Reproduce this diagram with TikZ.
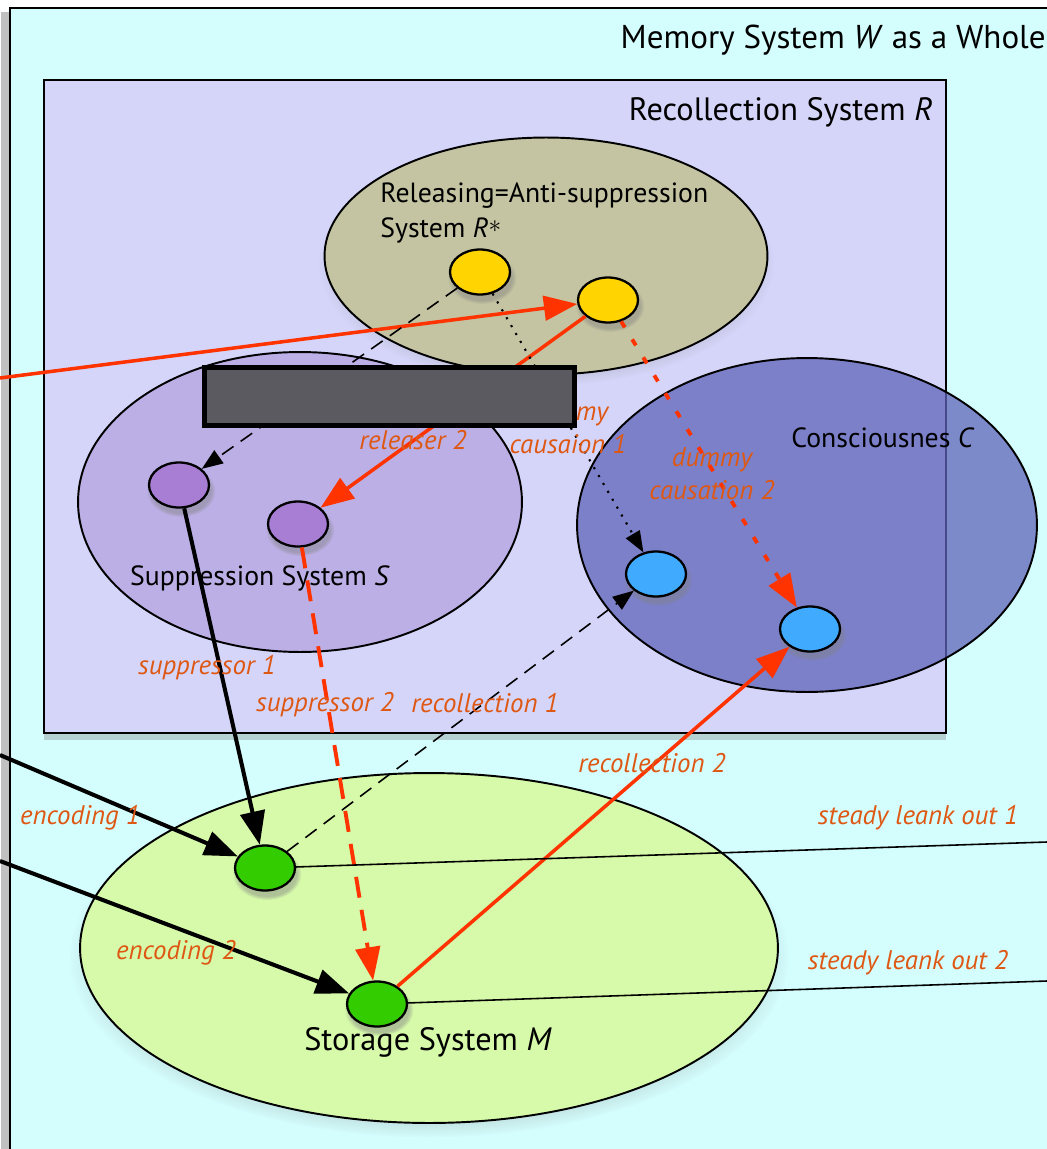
\documentclass[tikz,border=0pt]{standalone}
\usepackage{fontspec}
\setmainfont{PT Sans}
\usetikzlibrary{arrows.meta,shapes.geometric,shadows}

\definecolor{wholebg}{RGB}{212,253,253}
\definecolor{recbg}{RGB}{213,213,250}
\definecolor{releasebg}{RGB}{196,196,162}
\definecolor{suppbg}{RGB}{172,150,215}
\definecolor{conscbg}{RGB}{95,100,185}
\definecolor{storebg}{RGB}{214,250,170}
\definecolor{yellownode}{RGB}{255,212,0}
\definecolor{purplenode}{RGB}{168,126,212}
\definecolor{bluenode}{RGB}{64,170,255}
\definecolor{greennode}{RGB}{51,204,0}
\definecolor{arrowred}{RGB}{255,51,0}
\definecolor{labelorange}{RGB}{222,88,20}
\definecolor{barGray}{RGB}{90,90,96}

\begin{document}
\begin{tikzpicture}[x=0.02cm, y=-0.02cm,
    font=\fontsize{15.8}{20}\selectfont,
    sysbox/.style={draw, line width=1.2pt, anchor=north west, inner sep=0pt, outer sep=0pt},
    sysring/.style={ellipse, draw, line width=1.1pt, inner sep=0pt},
    unit/.style={ellipse, draw, line width=1.3pt, minimum width=1.2cm, minimum height=0.9cm, inner sep=0pt,
        circular drop shadow={shadow xshift=1pt, shadow yshift=-3pt, shadow scale=1.15, opacity=0.45}},
    lbl/.style={text=labelorange, font=\fontsize{15.3}{18.5}\selectfont\itshape, inner sep=0pt, align=center},
    boldarrow/.style={line width=2.3pt, -{Triangle[length=19pt,width=14pt]}},
    redarrow/.style={arrowred, line width=2pt, -{Triangle[length=19pt,width=14pt]}},
    thinarrow/.style={line width=0.9pt, -{Triangle[length=12pt,width=9pt]}},
]
\useasboundingbox (0,0) rectangle (1047,1149);
\fill[white] (0,0) rectangle (1047,1149);

% Memory system W as a whole
\node[sysbox, fill=wholebg, minimum width=21cm, minimum height=23cm,
    drop shadow={shadow xshift=-5pt, shadow yshift=-2pt, fill=black!40, opacity=0.6}] (whole) at (10,8) {};
\node[anchor=east, inner sep=0pt, font=\fontsize{18.8}{22}\selectfont] (wholeTitle) at (1046,40) {Memory System \textit{W} as a Whole};

% Recollection system R
\node[sysbox, fill=recbg, minimum width=18.04cm, minimum height=13.06cm,
    drop shadow={shadow xshift=0pt, shadow yshift=-4pt, opacity=0.35}] (recoll) at (44,80) {};
\node[anchor=east, inner sep=0pt, font=\fontsize{18.4}{22}\selectfont] (recollTitle) at (933,112) {Recollection System \textit{R}};

% the subsystems
\node[sysring, fill=releasebg, minimum width=8.86cm, minimum height=4.74cm,
    circular drop shadow={shadow xshift=0pt, shadow yshift=-4pt, shadow scale=1.03, opacity=0.3}] (release) at (546,256) {};
\node[sysring, fill=suppbg, fill opacity=0.6, minimum width=8.88cm, minimum height=6cm] (suppress) at (300,502) {};
\node[sysring, fill=conscbg, fill opacity=0.75, minimum width=9.2cm, minimum height=6.68cm] (consc) at (807,525) {};
\node[sysring, fill=storebg, minimum width=13.96cm, minimum height=7cm,
    circular drop shadow={shadow xshift=0pt, shadow yshift=-5pt, shadow scale=1.03, opacity=0.35}] (store) at (429,948) {};

\node[anchor=north west, align=left, inner sep=0pt] (releaseTxt) at (380,182) {Releasing=Anti-suppression\\System \textit{R}\raisebox{0.35ex}{$\ast$}};
\node (suppressTxt) at (260,578) {Suppression System \textit{S}};
\node (conscTxt) at (883,438) {Consciousnes \textit{C}};
\node[font=\fontsize{18.4}{22}\selectfont] (storeTxt) at (428,1042) {Storage System \textit{M}};

% the units
\foreach \nm/\px/\py/\col in {relA/480/272/yellownode, relB/608/300/yellownode,
    supA/179/485/purplenode, supB/298/524/purplenode,
    conA/656/574/bluenode, conB/810/629/bluenode,
    stoA/265/868/greennode, stoB/377/1004/greennode}{
  \node[unit, fill=\col] (\nm) at (\px,\py) {};
}

\coordinate (inRel) at (0,378);
\coordinate (inEncA) at (0,755);
\coordinate (inEncB) at (0,861);
\coordinate (outA) at (1047,842);
\coordinate (outB) at (1047,981);

% connectors
\draw[redarrow] (inRel) -- (relB);
\draw[redarrow] (relB) -- (supB);
\draw[thinarrow, dash pattern=on 8pt off 5pt] (relA) -- (supA);
\draw[thinarrow, line width=1.2pt, dash pattern=on 1.2pt off 4pt] (relA) -- (conA);
\draw[redarrow, line width=2.2pt, dash pattern=on 4pt off 8pt] (relB) -- (conB);
\draw[boldarrow] (supA) -- (stoA);
\draw[redarrow, line width=2.2pt, dash pattern=on 12pt off 7pt] (supB) -- (stoB);
\draw[thinarrow, dash pattern=on 8pt off 5pt] (stoA) -- (conA);
\draw[redarrow] (stoB) -- (conB);
\draw[boldarrow] (inEncA) -- (stoA);
\draw[boldarrow] (inEncB) -- (stoB);
\draw[line width=0.9pt] (stoA) -- (outA);
\draw[line width=0.9pt] (stoB) -- (outB);

% labels
\node[lbl] (lblReleaser) at (413,440) {releaser 2};
\node[lbl] (lblDummyA) at (568,428) {dummy\\causaion 1};
\node[lbl] (lblDummyB) at (712,474) {dummy\\causation 2};
\node[lbl] (lblSuppA) at (207,668) {suppressor 1};
\node[lbl] (lblSuppB) at (325,705) {suppressor 2};
\node[lbl] (lblRecA) at (485,703) {recollection 1};
\node[lbl] (lblRecB) at (652,763) {recollection 2};
\node[lbl] (lblEncA) at (80,818) {encoding 1};
\node[lbl] (lblEncB) at (176,953) {encoding 2};
\node[lbl] (lblOutA) at (918,818) {steady leank out 1};
\node[lbl] (lblOutB) at (908,963) {steady leank out 2};

% the bar over it
\node[draw, line width=2.8pt, fill=barGray, anchor=north west, inner sep=0pt, outer sep=0pt,
    minimum width=7.4cm, minimum height=1.16cm] (bar) at (204.5,367.5) {};

\end{tikzpicture}
\end{document}
